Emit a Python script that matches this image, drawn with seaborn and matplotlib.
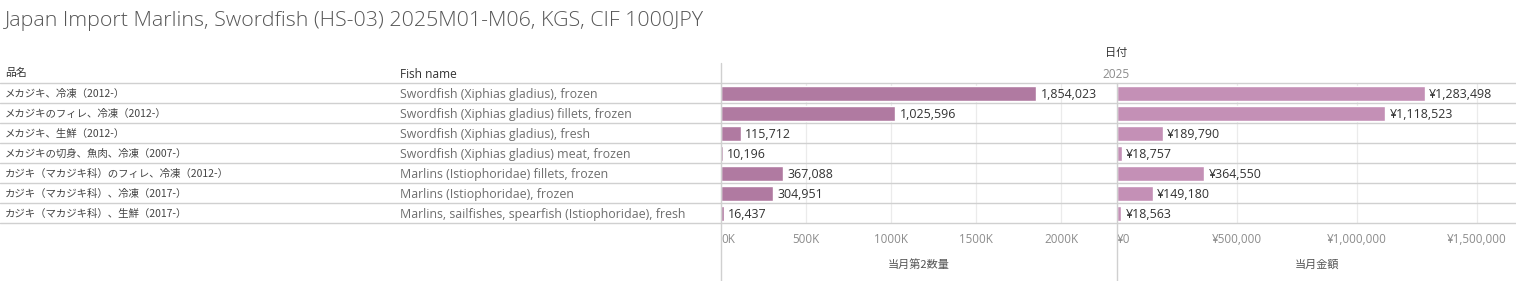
import matplotlib
matplotlib.use("Agg")
import matplotlib.pyplot as plt
from matplotlib.lines import Line2D
from matplotlib.transforms import offset_copy
import seaborn as sns
import pandas as pd

# ---- data ----
jp_names = [
    "メカジキ、冷凍（2012-）",
    "メカジキのフィレ、冷凍（2012-）",
    "メカジキ、生鮮（2012-）",
    "メカジキの切身、魚肉、冷凍（2007-）",
    "カジキ（マカジキ科）のフィレ、冷凍（2012-）",
    "カジキ（マカジキ科）、冷凍（2017-）",
    "カジキ（マカジキ科）、生鮮（2017-）",
]
en_names = [
    "Swordfish (Xiphias gladius), frozen",
    "Swordfish (Xiphias gladius) fillets, frozen",
    "Swordfish (Xiphias gladius), fresh",
    "Swordfish (Xiphias gladius) meat, frozen",
    "Marlins (Istiophoridae) fillets, frozen",
    "Marlins (Istiophoridae), frozen",
    "Marlins, sailfishes, spearfish (Istiophoridae), fresh",
]
quantity = [1854023, 1025596, 115712, 10196, 367088, 304951, 16437]
amount = [1283498, 1118523, 189790, 18757, 364550, 149180, 18563]
qty_ticks = [0, 500000, 1000000, 1500000, 2000000]
qty_ticklabels = ["0K", "500K", "1000K", "1500K", "2000K"]
amt_ticks = [0, 500000, 1000000, 1500000]
amt_ticklabels = ["¥0", "¥500,000", "¥1,000,000", "¥1,500,000"]

df = pd.DataFrame({"jp": jp_names, "en": en_names, "qty": quantity, "amt": amount})

sns.set_theme(style="white")
plt.rcParams["font.family"] = ["Open Sans", "Noto Sans CJK JP", "DejaVu Sans"]
JP = ["Noto Sans CJK JP", "DejaVu Sans"]
EN = ["Open Sans", "Noto Sans CJK JP", "DejaVu Sans"]

W, H = 1516, 281
fig = plt.figure(figsize=(W / 100, H / 100), dpi=100)
fig.patch.set_facecolor("white")

def fx(px):
    return px / W

def fy(py):
    return 1 - py / H

row_top, row_bot = 83, 223
x0, x1, x2 = 721, 1117, 1516
bottom = fy(row_bot)
height = (row_bot - row_top) / H

axL = fig.add_axes([0, bottom, fx(x0), height])
ax1 = fig.add_axes([fx(x0), bottom, fx(x1 - x0), height])
ax2 = fig.add_axes([fx(x1), bottom, fx(x2 - x1), height])

c1 = "#b07aa1"
c2 = "#c490b6"
sns.barplot(data=df, y="jp", x="qty", ax=ax1, color=c1, width=0.75,
            orient="h", saturation=1)
sns.barplot(data=df, y="jp", x="amt", ax=ax2, color=c2, width=0.75,
            orient="h", saturation=1)

for ax, xmax, ticks, tl in [(ax1, 2329000, qty_ticks, qty_ticklabels),
                            (ax2, 1662500, amt_ticks, amt_ticklabels)]:
    ax.set_ylim(len(jp_names) - 0.5, -0.5)
    ax.set_xlim(0, xmax)
    ax.set_xticks(ticks)
    ax.set_xticklabels(tl, fontsize=8.4, color="#8c8c8c", family=EN)
    ax.get_xticklabels()[0].set_ha("left")
    ax.set_yticks([])
    ax.set_ylabel("")
    ax.set_xlabel("")
    ax.tick_params(axis="x", length=0, pad=7)
    ax.grid(axis="x", color="#ebebeb", lw=0.9)
    ax.set_axisbelow(True)
    for s in ax.spines.values():
        s.set_visible(False)

anns = []
anns += ax1.bar_label(ax1.containers[0], labels=[f"{v:,}" for v in quantity],
                      padding=4, fontsize=8.9, color="#333333", family=EN)
anns += ax2.bar_label(ax2.containers[0], labels=[f"¥{v:,}" for v in amount],
                      padding=4, fontsize=8.9, color="#333333", family=EN)
for a in anns:
    a.xyann = (3, -1.3)

# label columns
axL.set_xlim(0, x0)
axL.set_ylim(len(jp_names) - 0.5, -0.5)
axL.axis("off")
tr_en = offset_copy(axL.transData, fig=fig, y=-1.6, units="dots")
tr_jp = offset_copy(axL.transData, fig=fig, y=-0.5, units="dots")
for i, (j, e) in enumerate(zip(jp_names, en_names)):
    axL.text(5, i, j, va="center", ha="left", fontsize=7.5, color="#444444",
             family=JP, transform=tr_jp)
    axL.text(400, i, e, va="center", ha="left", fontsize=8.9, color="#6e6e6e",
             family=EN, transform=tr_en)

# texts
fig.text(fx(5), fy(21), "Japan Import Marlins, Swordfish (HS-03) 2025M01-M06, KGS, CIF 1000JPY",
         ha="left", va="center", fontsize=15.4, color="#555555", family=EN, weight="light")
fig.text(fx(5), fy(73), "品名", ha="left", va="center", fontsize=7.8, color="#333333", family=JP)
fig.text(fx(400), fy(74), "Fish name", ha="left", va="center", fontsize=8.6, color="#333333", family=EN)
fig.text(fx(1116), fy(53), "日付", ha="center", va="center", fontsize=8, color="#333333", family=JP)
fig.text(fx(1116), fy(74), "2025", ha="center", va="center", fontsize=8.6, color="#8c8c8c", family=EN)
fig.text(fx((x0 + x1) / 2), fy(265), "当月第2数量", ha="center", va="center", fontsize=8,
         color="#555555", family=JP)
fig.text(fx((x1 + x2) / 2), fy(265), "当月金額", ha="center", va="center", fontsize=8,
         color="#555555", family=JP)

# frame lines
lc = "#d0d0d0"
for py in range(row_top, row_bot + 1, 20):
    fig.add_artist(Line2D([0, 1], [fy(py), fy(py)], transform=fig.transFigure, color=lc, lw=1))
fig.add_artist(Line2D([fx(x0), fx(x0)], [fy(63), 0], transform=fig.transFigure, color=lc, lw=1))
fig.add_artist(Line2D([fx(x1), fx(x1)], [fy(83), 0], transform=fig.transFigure, color=lc, lw=1))

fig.savefig("out.png", dpi=100, facecolor="white")
